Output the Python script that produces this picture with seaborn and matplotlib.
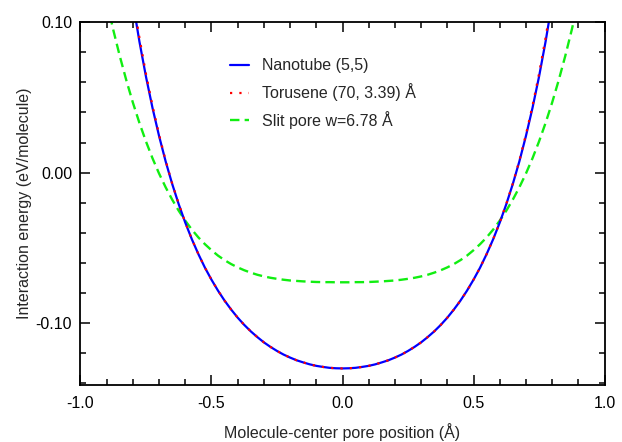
import numpy as np
import pandas as pd
import matplotlib
matplotlib.use('Agg')
import matplotlib.pyplot as plt
from matplotlib.ticker import MultipleLocator, FormatStrFormatter
import seaborn as sns

# positions along the pore (Angstrom)
x_tube = [-0.800, -0.775, -0.750, -0.725, -0.700, -0.675, -0.650, -0.625, -0.600, -0.575,
          -0.550, -0.525, -0.500, -0.475, -0.450, -0.425, -0.400, -0.375, -0.350, -0.325,
          -0.300, -0.275, -0.250, -0.225, -0.200, -0.175, -0.150, -0.125, -0.100, -0.075,
          -0.050, -0.025, 0.000, 0.025, 0.050, 0.075, 0.100, 0.125, 0.150, 0.175,
          0.200, 0.225, 0.250, 0.275, 0.300, 0.325, 0.350, 0.375, 0.400, 0.425,
          0.450, 0.475, 0.500, 0.525, 0.550, 0.575, 0.600, 0.625, 0.650, 0.675,
          0.700, 0.725, 0.750, 0.775, 0.800]
nanotube = [0.1131, 0.0870, 0.0637, 0.0429, 0.0243, 0.0075, -0.0075, -0.0210, -0.0332, -0.0442,
            -0.0541, -0.0631, -0.0711, -0.0784, -0.0850, -0.0909, -0.0963, -0.1011, -0.1054, -0.1092,
            -0.1127, -0.1157, -0.1184, -0.1208, -0.1228, -0.1246, -0.1260, -0.1273, -0.1283, -0.1290,
            -0.1296, -0.1299, -0.1300, -0.1299, -0.1296, -0.1290, -0.1283, -0.1273, -0.1260, -0.1246,
            -0.1228, -0.1208, -0.1184, -0.1157, -0.1127, -0.1092, -0.1054, -0.1011, -0.0963, -0.0909,
            -0.0850, -0.0784, -0.0711, -0.0631, -0.0541, -0.0442, -0.0332, -0.0210, -0.0075, 0.0075,
            0.0243, 0.0429, 0.0637, 0.0870, 0.1131]
torusene = [0.1160, 0.0895, 0.0655, 0.0442, 0.0252, 0.0080, -0.0072, -0.0208, -0.0331, -0.0442,
            -0.0541, -0.0631, -0.0711, -0.0784, -0.0850, -0.0909, -0.0963, -0.1011, -0.1054, -0.1092,
            -0.1127, -0.1157, -0.1184, -0.1208, -0.1228, -0.1246, -0.1260, -0.1273, -0.1283, -0.1290,
            -0.1296, -0.1299, -0.1300, -0.1299, -0.1296, -0.1290, -0.1283, -0.1273, -0.1260, -0.1246,
            -0.1228, -0.1208, -0.1184, -0.1157, -0.1127, -0.1092, -0.1054, -0.1011, -0.0963, -0.0909,
            -0.0850, -0.0784, -0.0711, -0.0631, -0.0541, -0.0442, -0.0331, -0.0208, -0.0072, 0.0080,
            0.0252, 0.0442, 0.0655, 0.0895, 0.1160]

x_slit = [-0.900, -0.875, -0.850, -0.825, -0.800, -0.775, -0.750, -0.725, -0.700, -0.675,
          -0.650, -0.625, -0.600, -0.575, -0.550, -0.525, -0.500, -0.475, -0.450, -0.425,
          -0.400, -0.375, -0.350, -0.325, -0.300, -0.275, -0.250, -0.225, -0.200, -0.175,
          -0.150, -0.125, -0.100, -0.075, -0.050, -0.025, 0.000, 0.025, 0.050, 0.075,
          0.100, 0.125, 0.150, 0.175, 0.200, 0.225, 0.250, 0.275, 0.300, 0.325,
          0.350, 0.375, 0.400, 0.425, 0.450, 0.475, 0.500, 0.525, 0.550, 0.575,
          0.600, 0.625, 0.650, 0.675, 0.700, 0.725, 0.750, 0.775, 0.800, 0.825,
          0.850, 0.875, 0.900]
slit = [0.1140, 0.0949, 0.0774, 0.0613, 0.0465, 0.0330, 0.0207, 0.0095, -0.0006, -0.0097,
        -0.0179, -0.0253, -0.0319, -0.0378, -0.0430, -0.0475, -0.0515, -0.0551, -0.0581, -0.0607,
        -0.0629, -0.0648, -0.0664, -0.0678, -0.0689, -0.0698, -0.0705, -0.0711, -0.0716, -0.0719,
        -0.0722, -0.0724, -0.0726, -0.0727, -0.0727, -0.0728, -0.0728, -0.0728, -0.0727, -0.0727,
        -0.0726, -0.0724, -0.0722, -0.0719, -0.0716, -0.0711, -0.0705, -0.0698, -0.0689, -0.0678,
        -0.0664, -0.0648, -0.0629, -0.0607, -0.0581, -0.0551, -0.0515, -0.0475, -0.0430, -0.0378,
        -0.0319, -0.0253, -0.0179, -0.0097, -0.0006, 0.0095, 0.0207, 0.0330, 0.0465, 0.0613,
        0.0774, 0.0949, 0.1140]

labels = ['Nanotube (5,5)', 'Torusene (70, 3.39) \u00c5', 'Slit pore w=6.78 \u00c5']

sns.set_style('ticks')
plt.rcParams['font.family'] = ['Liberation Sans', 'DejaVu Sans']
plt.rcParams['axes.unicode_minus'] = False

fig = plt.figure(figsize=(6.22, 4.42), dpi=100)
ax = fig.add_axes([0.1294, 0.129, 0.8425, 0.821])

sns.lineplot(x=x_tube, y=nanotube, ax=ax, color='#0000ff', lw=1.6,
             label=labels[0], sort=False, zorder=2)
sns.lineplot(x=x_tube, y=torusene, ax=ax, color='#ff0000', lw=1.6,
             linestyle=(0, (1, 3.2)), label=labels[1], sort=False, zorder=3)
sns.lineplot(x=x_slit, y=slit, ax=ax, color='#11ee11', lw=1.7,
             linestyle=(0, (4, 2.2)), label=labels[2], sort=False, zorder=1)

ax.set_xlim(-1.0, 1.0)
ax.set_ylim(-0.141, 0.10)
ax.xaxis.set_major_locator(MultipleLocator(0.5))
ax.xaxis.set_minor_locator(MultipleLocator(0.1))
ax.yaxis.set_major_locator(MultipleLocator(0.1))
ax.yaxis.set_minor_locator(MultipleLocator(0.02))
ax.xaxis.set_major_formatter(FormatStrFormatter('%.1f'))
ax.yaxis.set_major_formatter(FormatStrFormatter('%.2f'))
ax.tick_params(which='both', direction='in', top=True, right=True,
               labelsize=11.5, width=1.1, colors='black')
ax.tick_params(which='major', length=7)
ax.tick_params(axis='x', which='major', pad=8.2)
ax.tick_params(axis='y', which='major', pad=6)
ax.tick_params(which='minor', length=4)
for s in ax.spines.values():
    s.set_linewidth(1.3)
    s.set_color('black')

ax.set_xlabel('Molecule-center pore position (\u00c5)', fontsize=11.5, labelpad=8.5)
ax.set_ylabel('Interaction energy (eV/molecule)', fontsize=11.5, labelpad=2.8)

ax.legend(loc='upper left', bbox_to_anchor=(0.258, 0.94), frameon=False,
          fontsize=11.5, handlelength=1.2, handletextpad=0.8, labelspacing=0.62)

fig.savefig('out.png', dpi=100)
